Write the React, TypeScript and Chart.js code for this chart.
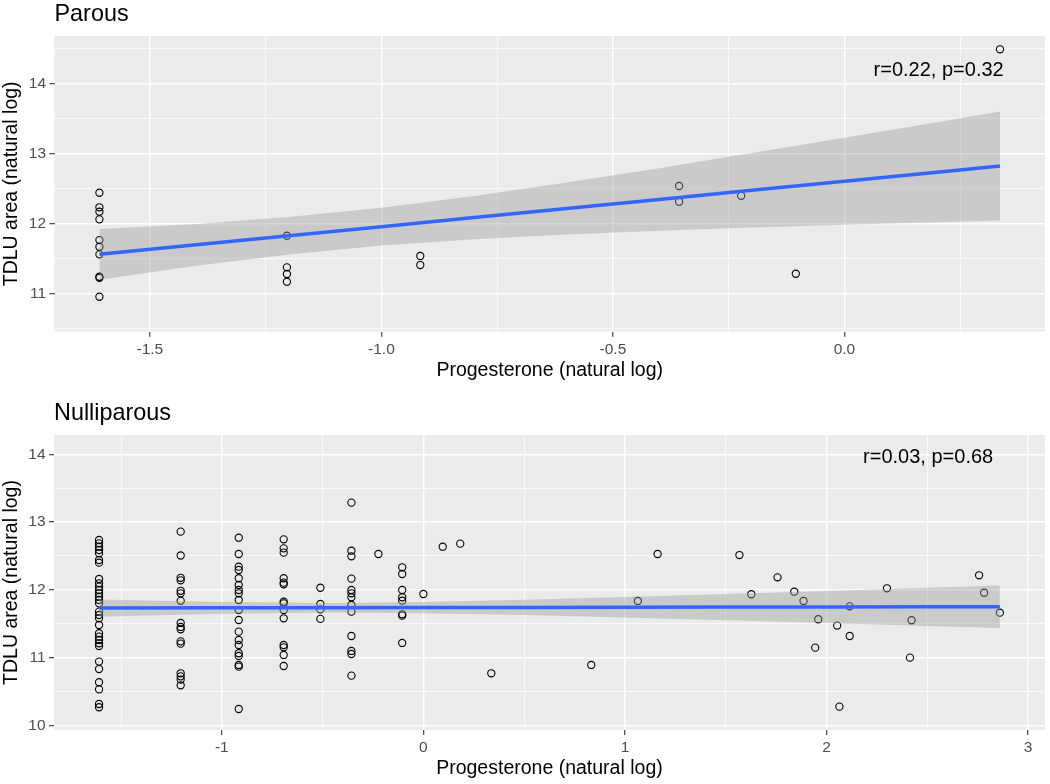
import React, { useEffect, useRef } from 'react';
import { Chart, registerables } from 'chart.js';

Chart.register(...registerables);

// ---------- Parous panel data ----------
const parousGroupX = [-1.609, -1.204, -0.916, -0.357, -0.223, -0.105, 0.336];
const parousGroupY = [
  [12.437, 12.229, 12.166, 12.057, 11.761, 11.666, 11.557, 11.237, 11.223, 10.951],
  [11.823, 11.371, 11.276, 11.166],
  [11.533, 11.404],
  [12.533, 12.309],
  [12.394],
  [11.28],
  [14.486],
];
const parousFitX = [-1.609, -1.4, -1.2, -1.0, -0.8, -0.6, -0.4, -0.2, 0, 0.2, 0.336];
const parousFit = [11.557, 11.693, 11.822, 11.952, 12.082, 12.212, 12.341, 12.471, 12.601, 12.731, 12.819];
const parousUpper = [11.919, 11.992, 12.089, 12.221, 12.389, 12.582, 12.788, 13.003, 13.222, 13.445, 13.597];
const parousLower = [11.195, 11.393, 11.556, 11.682, 11.774, 11.842, 11.894, 11.939, 11.979, 12.017, 12.041];
const parousXMajor = [-1.5, -1.0, -0.5, 0.0];
const parousXMinor = [-1.25, -0.75, -0.25, 0.25];
const parousYMajor = [11, 12, 13, 14];
const parousYMinor = [10.5, 11.5, 12.5, 13.5, 14.5];

// ---------- Nulliparous panel data ----------
const nulliGroupX = [
  -1.609, -1.204, -0.916, -0.693, -0.511, -0.357, -0.223, -0.105,
  0, 0.096, 0.183, 0.337, 0.833, 1.064, 1.162, 1.568, 1.627, 1.757, 1.84, 1.886,
  1.959, 1.944, 2.053, 2.064, 2.115, 2.3, 2.422, 2.414, 2.757, 2.782, 2.86,
];
const nulliGroupY = [
  [12.735, 12.686, 12.636, 12.587, 12.539, 12.44, 12.4, 12.159, 12.096, 12.046, 11.997, 11.948, 11.898, 11.85, 11.8,
   11.677, 11.628, 11.579, 11.48, 11.358, 11.308, 11.259, 11.21, 11.17, 10.94, 10.83, 10.635, 10.53, 10.314, 10.266],
  [12.858, 12.506, 12.177, 12.14, 11.985, 11.948, 11.837, 11.51, 11.451, 11.417, 11.239, 11.205, 10.767, 10.722, 10.675, 10.59],
  [12.769, 12.528, 12.341, 12.292, 12.17, 12.071, 11.997, 11.948, 11.85, 11.702, 11.554, 11.382, 11.259, 11.185, 11.063,
   11.023, 10.89, 10.865, 10.24],
  [12.745, 12.612, 12.548, 12.17, 12.105, 12.081, 11.824, 11.8, 11.702, 11.579, 11.185, 11.151, 11.038, 10.875],
  [12.03, 11.79, 11.71, 11.57],
  [13.286, 12.577, 12.494, 12.164, 11.997, 11.948, 11.889, 11.776, 11.677, 11.318, 11.097, 11.052, 10.732],
  [12.528],
  [12.332, 12.233, 11.997, 11.889, 11.839, 11.638, 11.618, 11.215],
  [11.938],
  [12.636],
  [12.681],
  [10.767],
  [10.89],
  [11.835],
  [12.528],
  [12.513],
  [11.934],
  [12.184],
  [11.972],
  [11.835],
  [11.565],
  [11.146],
  [11.471],
  [10.275],
  [11.756, 11.318],
  [12.022],
  [11.55],
  [10.998],
  [12.214],
  [11.957],
  [11.662],
];
const nulliFitX = [-1.609, -1.0, -0.45, 0, 0.5, 1.0, 1.5, 2.0, 2.5, 2.86];
const nulliFit = [11.73, 11.733, 11.735, 11.737, 11.739, 11.742, 11.744, 11.746, 11.748, 11.75];
const nulliUpper = [11.858, 11.82, 11.806, 11.819, 11.852, 11.893, 11.937, 11.983, 12.029, 12.063];
const nulliLower = [11.602, 11.646, 11.664, 11.655, 11.626, 11.591, 11.551, 11.509, 11.467, 11.437];
const nulliXMajor = [-1, 0, 1, 2, 3];
const nulliXMinor = [-1.5, -0.5, 0.5, 1.5, 2.5];
const nulliYMajor = [10, 11, 12, 13, 14];
const nulliYMinor = [10.5, 11.5, 12.5, 13.5];

const FONT = '"Liberation Sans", Arial, Helvetica, sans-serif';
const W = 1050;
const H = 392;

type PanelSpec = {
  title: string;
  groupX: number[];
  groupY: number[][];
  fitX: number[];
  fit: number[];
  upper: number[];
  lower: number[];
  xMin: number; xMax: number; yMin: number; yMax: number;
  xMajor: number[]; xMinor: number[]; yMajor: number[]; yMinor: number[];
  xFmt: (v: number) => string;
  annText: string; annX: number; annY: number;
  left: number; right: number; top: number; bottom: number;
  titleBaseline: number;
};

const decorPlugin = {
  id: 'panelDecor',
  beforeDraw(chart: any, _args: any, opts: any) {
    const { ctx, chartArea: a } = chart;
    ctx.save();
    ctx.fillStyle = '#EBEBEB';
    ctx.fillRect(a.left, a.top, a.right - a.left, a.bottom - a.top);
    ctx.restore();
  },
  afterDraw(chart: any, _args: any, opts: any) {
    const { ctx, chartArea: a } = chart;
    ctx.save();
    // plot title
    ctx.fillStyle = '#000000';
    ctx.font = `23.4px ${FONT}`;
    ctx.textAlign = 'left';
    ctx.textBaseline = 'alphabetic';
    ctx.fillText(opts.title, a.left, opts.titleBaseline);
    // x axis title
    ctx.font = `19.5px ${FONT}`;
    ctx.textAlign = 'center';
    ctx.textBaseline = 'middle';
    ctx.fillText('Progesterone (natural log)', (a.left + a.right) / 2, a.bottom + 39);
    // y axis title
    ctx.save();
    ctx.translate(12, (a.top + a.bottom) / 2);
    ctx.rotate(-Math.PI / 2);
    ctx.fillText('TDLU area (natural log)', 0, 0);
    ctx.restore();
    // correlation annotation
    const px = chart.scales.x.getPixelForValue(opts.annX);
    const py = chart.scales.y.getPixelForValue(opts.annY);
    ctx.font = `20px ${FONT}`;
    ctx.textAlign = 'right';
    ctx.textBaseline = 'middle';
    ctx.fillText(opts.annText, px, py);
    ctx.restore();
  },
};

function makeAxis(min: number, max: number, major: number[], minor: number[], fmt: (v: number) => string, fit: (s: any) => void) {
  const all = [...major, ...minor].filter((v) => v >= min && v <= max).sort((p, q) => p - q);
  const isMajor = (v: number) => major.some((m) => Math.abs(m - v) < 1e-9);
  return {
    type: 'linear',
    min,
    max,
    afterBuildTicks: (scale: any) => {
      scale.ticks = all.map((value) => ({ value }));
    },
    afterFit: fit,
    border: { display: false },
    grid: {
      color: '#FFFFFF',
      lineWidth: (c: any) => (c.tick && isMajor(c.tick.value) ? 1.4 : 0.7),
      tickColor: (c: any) => (c.tick && isMajor(c.tick.value) ? '#333333' : 'rgba(0,0,0,0)'),
      tickWidth: 1.1,
      tickLength: 5,
      drawTicks: true,
    },
    ticks: {
      autoSkip: false,
      maxRotation: 0,
      minRotation: 0,
      padding: 3.5,
      color: '#4D4D4D',
      font: { family: FONT, size: 15.5 },
      callback: (v: any) => (isMajor(Number(v)) ? fmt(Number(v)) : ''),
    },
  };
}

function Panel({ spec, topOffset }: { spec: PanelSpec; topOffset: number }) {
  const ref = useRef<HTMLCanvasElement | null>(null);
  useEffect(() => {
    if (!ref.current) return;
    const points: { x: number; y: number }[] = [];
    spec.groupX.forEach((gx, i) => spec.groupY[i].forEach((gy) => points.push({ x: gx, y: gy })));
    const toXY = (ys: number[]) => spec.fitX.map((x, i) => ({ x, y: ys[i] }));
    const chart = new Chart(ref.current, {
      type: 'scatter',
      data: {
        datasets: [
          {
            type: 'line',
            data: toXY(spec.fit),
            showLine: true,
            borderColor: '#3366FF',
            borderWidth: 3.5,
            pointRadius: 0,
            fill: false,
            tension: 0,
          },
          {
            type: 'line',
            data: toXY(spec.upper),
            showLine: true,
            borderColor: 'rgba(0,0,0,0)',
            borderWidth: 0,
            pointRadius: 0,
            backgroundColor: 'rgba(153,153,153,0.4)',
            fill: '+1',
            tension: 0,
          },
          {
            type: 'line',
            data: toXY(spec.lower),
            showLine: true,
            borderColor: 'rgba(0,0,0,0)',
            borderWidth: 0,
            pointRadius: 0,
            fill: false,
            tension: 0,
          },
          {
            type: 'scatter',
            data: points,
            pointStyle: 'circle',
            pointRadius: 3.6,
            borderWidth: 1.1,
            borderColor: '#000000',
            backgroundColor: 'rgba(0,0,0,0)',
          },
        ],
      } as any,
      options: {
        animation: false,
        responsive: false,
        events: [],
        layout: { padding: { left: 0, top: spec.top, right: W - spec.right, bottom: 0 } },
        plugins: {
          legend: { display: false },
          tooltip: { enabled: false },
          panelDecor: {
            title: spec.title,
            titleBaseline: spec.titleBaseline,
            annText: spec.annText,
            annX: spec.annX,
            annY: spec.annY,
          },
        } as any,
        scales: {
          x: makeAxis(spec.xMin, spec.xMax, spec.xMajor, spec.xMinor, spec.xFmt, (s: any) => {
            s.height = H - spec.bottom;
          }),
          y: makeAxis(spec.yMin, spec.yMax, spec.yMajor, spec.yMinor, (v) => String(v), (s: any) => {
            s.width = spec.left;
          }),
        } as any,
      },
      plugins: [decorPlugin as any],
    });
    return () => chart.destroy();
  }, [spec]);
  return (
    <canvas
      ref={ref}
      width={W}
      height={H}
      style={{ position: 'absolute', left: 0, top: topOffset, width: W, height: H, display: 'block' }}
    />
  );
}

const parousSpec: PanelSpec = {
  title: 'Parous',
  groupX: parousGroupX,
  groupY: parousGroupY,
  fitX: parousFitX,
  fit: parousFit,
  upper: parousUpper,
  lower: parousLower,
  xMin: -1.706, xMax: 0.433, yMin: 10.452, yMax: 14.676,
  xMajor: parousXMajor, xMinor: parousXMinor, yMajor: parousYMajor, yMinor: parousYMinor,
  xFmt: (v) => v.toFixed(1),
  annText: 'r=0.22, p=0.32', annX: 0.344, annY: 14.19,
  left: 54.5, right: 1047, top: 36, bottom: 331.7,
  titleBaseline: 21,
};

const nulliSpec: PanelSpec = {
  title: 'Nulliparous',
  groupX: nulliGroupX,
  groupY: nulliGroupY,
  fitX: nulliFitX,
  fit: nulliFit,
  upper: nulliUpper,
  lower: nulliLower,
  xMin: -1.8325, xMax: 3.0835, yMin: 9.93, yMax: 14.285,
  xMajor: nulliXMajor, xMinor: nulliXMinor, yMajor: nulliYMajor, yMinor: nulliYMinor,
  xFmt: (v) => String(v),
  annText: 'r=0.03, p=0.68', annX: 2.827, annY: 13.956,
  left: 54, right: 1047, top: 43, bottom: 338,
  titleBaseline: 27.7,
};

export default function App() {
  return (
    <div style={{ position: 'absolute', left: 0, top: 0, width: W, height: 784, background: '#FFFFFF' }}>
      <Panel spec={parousSpec} topOffset={0} />
      <Panel spec={nulliSpec} topOffset={392} />
    </div>
  );
}
